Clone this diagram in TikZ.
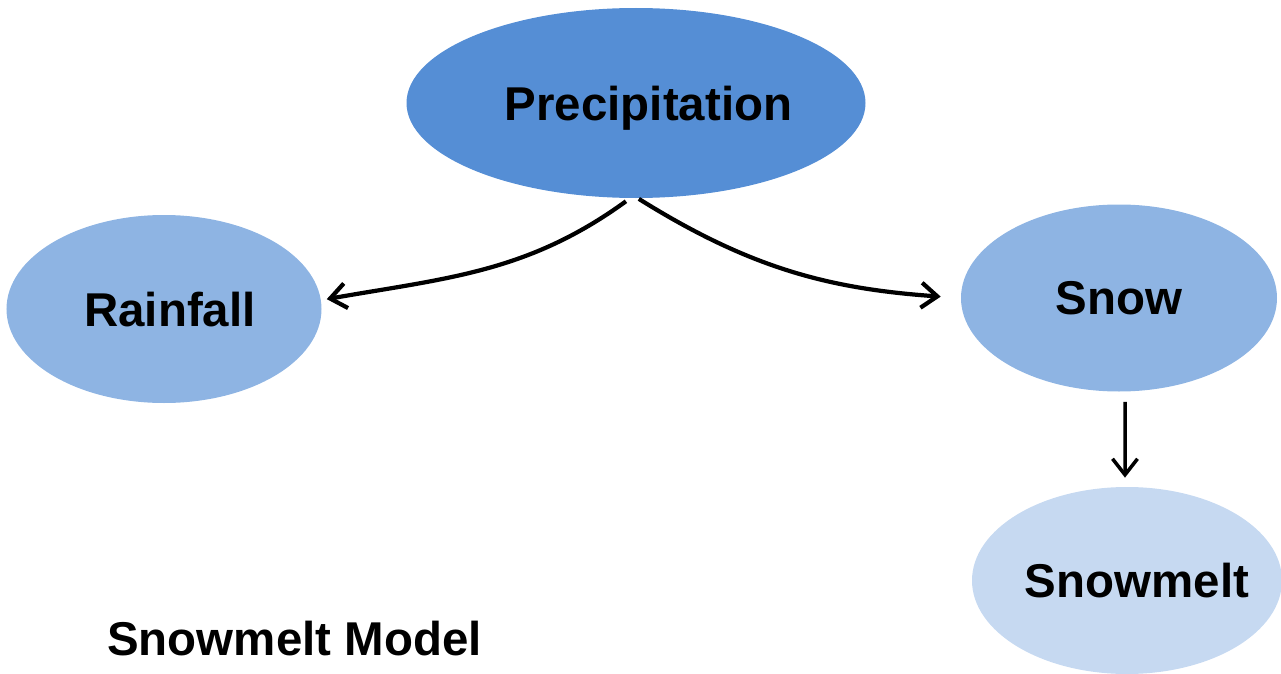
\documentclass[tikz,border=0pt]{standalone}
\usepackage{fontspec}
\setmainfont{Liberation Sans}
\usepackage{tikz}
\usetikzlibrary{shapes.geometric,arrows.meta,positioning}
\definecolor{precblue}{HTML}{558ED5}
\definecolor{midblue}{HTML}{8EB4E3}
\definecolor{paleblue}{HTML}{C6D9F1}
\tikzset{
    blob/.style={ellipse, draw=none, inner sep=0pt, text depth=0pt, font=\bfseries\fontsize{27}{32}\selectfont},
    flow/.style={draw, line width=2.4pt, -{Straight Barb[length=3.2mm, width=5mm]}},
}

\begin{document}
\begin{tikzpicture}
\useasboundingbox (0,0) rectangle (25.62,-13.48);

% Nodes
\node[blob, fill=precblue, minimum width=9.18cm, minimum height=3.80cm] (prec) at (12.72,-2.06) {\hspace*{0.5cm}Precipitation};
\node[blob, fill=midblue, minimum width=6.30cm, minimum height=3.76cm] (rain) at (3.28,-6.18) {\hspace*{0.24cm}Rainfall};
\node[blob, fill=midblue, minimum width=6.32cm, minimum height=3.74cm] (snow) at (22.38,-5.96) {Snow};
\node[blob, fill=paleblue, minimum width=6.20cm, minimum height=3.74cm] (melt) at (22.54,-11.61) {\makebox[3cm]{\hspace*{0.4cm}Snowmelt}};
\node[anchor=base west, inner sep=0pt, font=\bfseries\fontsize{27}{32}\selectfont] (title) at (2.14,-13.10) {Snowmelt Model};

% Edges
\draw[flow, shorten <=0.1cm, shorten >=0.1cm] ([xshift=-0.12cm]prec.south) to[out=216, in=10] ([yshift=0.18cm]rain.east);
\draw[flow, shorten <=0.02cm, shorten >=0.4cm] ([xshift=0.04cm]prec.south) to[out=-32, in=176] (snow.west);
\draw[flow, line width=2pt, shorten <=0.2cm, shorten >=0.18cm] ([xshift=0.12cm]snow.south) -- ([xshift=-0.04cm]melt.north);

\end{tikzpicture}
\end{document}
